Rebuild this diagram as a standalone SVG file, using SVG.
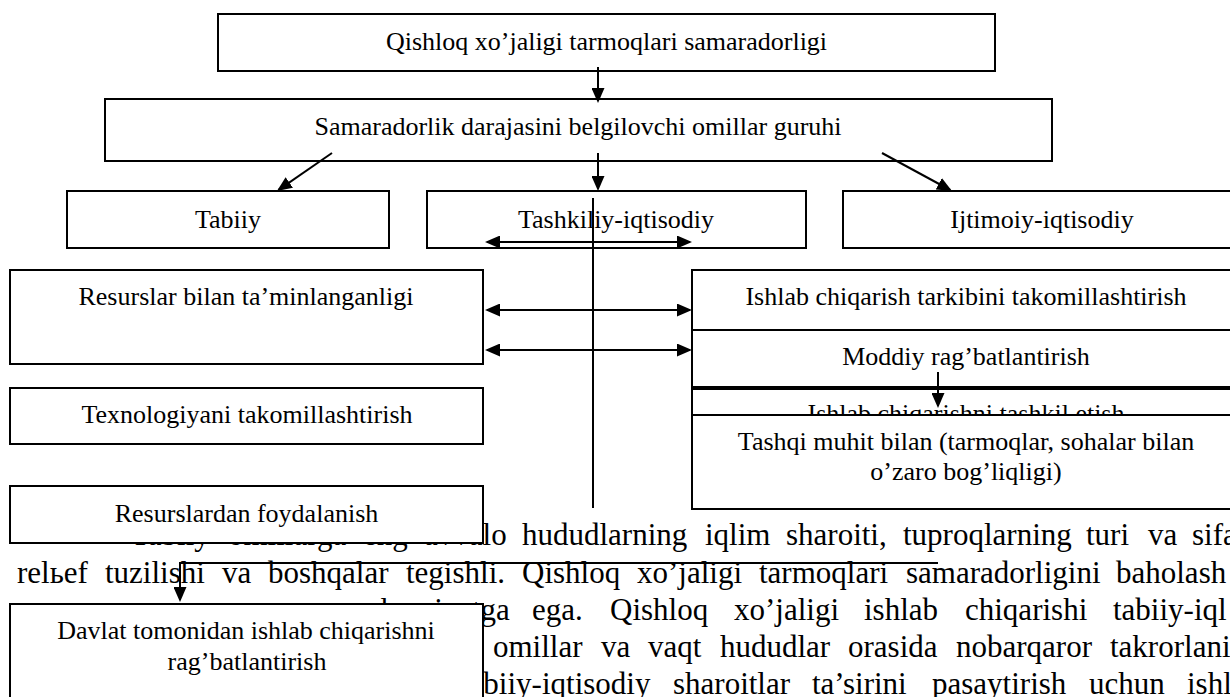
<svg xmlns="http://www.w3.org/2000/svg" width="1230" height="697" viewBox="0 0 1230 697">
<style>
.box{fill:#fff;stroke:#000;stroke-width:2}
.t{font-family:"Liberation Serif","Times New Roman",serif;font-size:26px;fill:#000;text-anchor:middle}
.b{font-family:"Liberation Serif","Times New Roman",serif;font-size:31px;fill:#000}
.c{fill:none;stroke:#000;stroke-width:2}
</style>
<defs>
<marker id="ah" viewBox="0 0 15 13" refX="13" refY="6.5" markerWidth="15" markerHeight="13" markerUnits="userSpaceOnUse" orient="auto-start-reverse">
<path d="M0,0 L15,6.5 L0,13 z" fill="#000"/>
</marker>
</defs>
<rect width="1230" height="697" fill="#fff"/>
<g id="body-text" class="b">
<text y="545"><tspan x="131">Tabiiy</tspan><tspan x="228">omillarga</tspan><tspan x="363">eng</tspan><tspan x="424">avvalo</tspan><tspan x="522">hududlarning</tspan><tspan x="705">iqlim</tspan><tspan x="786">sharoiti,</tspan><tspan x="903">tuproqlarning</tspan><tspan x="1086">turi</tspan><tspan x="1148">va</tspan><tspan x="1192">sifa</tspan></text>
<text y="583"><tspan x="17">relьef</tspan><tspan x="105">tuzilishi</tspan><tspan x="222">va</tspan><tspan x="268">boshqalar</tspan><tspan x="406">tegishli.</tspan><tspan x="522">Qishloq</tspan><tspan x="637">xo’jaligi</tspan><tspan x="759">tarmoqlari</tspan><tspan x="906">samaradorligini</tspan><tspan x="1116">baholash</tspan></text>
<text y="620"><tspan x="367">ahamiyatga</tspan><tspan x="532">ega.</tspan><tspan x="610">Qishloq</tspan><tspan x="734">xo’jaligi</tspan><tspan x="864">ishlab</tspan><tspan x="965">chiqarishi</tspan><tspan x="1113">tabiiy-iql</tspan></text>
<text y="657"><tspan x="493">omillar</tspan><tspan x="601">va</tspan><tspan x="648">vaqt</tspan><tspan x="720">hududlar</tspan><tspan x="848">orasida</tspan><tspan x="956">nobarqaror</tspan><tspan x="1110">takrorlani</tspan></text>
<text y="694"><tspan x="461">tabiiy-iqtisodiy</tspan><tspan x="673">sharoitlar</tspan><tspan x="812">ta’sirini</tspan><tspan x="932">pasaytirish</tspan><tspan x="1089">uchun</tspan><tspan x="1187">ishl</tspan></text>
</g>
<g id="n-top"><rect class="box" x="218" y="14" width="777" height="57"/><text class="t" x="606.5" y="50">Qishloq xo’jaligi tarmoqlari samaradorligi</text></g>
<g id="n-group"><rect class="box" x="105" y="99" width="947" height="62"/><text class="t" x="578" y="135">Samaradorlik darajasini belgilovchi omillar guruhi</text></g>
<g id="n-tabiiy"><rect class="box" x="67" y="191" width="322" height="57"/><text class="t" x="228" y="228">Tabiiy</text></g>
<g id="n-tashkiliy"><rect class="box" x="427" y="191" width="379" height="57"/><text class="t" x="616" y="228">Tashkiliy-iqtisodiy</text></g>
<g id="n-ijtimoiy"><rect class="box" x="843" y="191" width="398" height="57"/><text class="t" x="1042" y="228">Ijtimoiy-iqtisodiy</text></g>
<g id="n-resurslar"><rect class="box" x="10" y="270" width="473" height="94"/><text class="t" x="246" y="305">Resurslar bilan ta’minlanganligi</text></g>
<g id="n-texnologiya"><rect class="box" x="10" y="388" width="473" height="56"/><text class="t" x="247" y="423">Texnologiyani takomillashtirish</text></g>
<g id="n-foydalanish"><rect class="box" x="10" y="486" width="473" height="57"/><text class="t" x="246.5" y="522">Resurslardan foydalanish</text></g>
<g id="n-davlat"><rect class="box" x="10" y="604" width="473" height="110"/><text class="t" x="246" y="639">Davlat tomonidan ishlab chiqarishni</text><text class="t" x="247" y="670">rag’batlantirish</text></g>
<g id="n-tarkib"><rect class="box" x="692" y="270" width="548" height="60"/><text class="t" x="966" y="305">Ishlab chiqarish tarkibini takomillashtirish</text></g>
<g id="n-moddiy"><rect class="box" x="692" y="330" width="548" height="57"/><text class="t" x="966" y="365">Moddiy rag’batlantirish</text></g>
<g id="n-tashkil"><rect class="box" x="692" y="389" width="548" height="40"/><text class="t" x="966" y="422">Ishlab chiqarishni tashkil etish</text></g>
<g id="n-tashqi"><rect class="box" x="692" y="415" width="548" height="94"/><text class="t" x="966" y="450">Tashqi muhit bilan (tarmoqlar, sohalar bilan</text><text class="t" x="966" y="480">o’zaro bog’liqligi)</text></g>
<g id="connectors" class="c">
<line x1="598" y1="67" x2="598" y2="101" marker-end="url(#ah)"/>
<line x1="598" y1="153" x2="598" y2="189" marker-end="url(#ah)"/>
<line x1="332" y1="153" x2="278.6" y2="189.9" marker-end="url(#ah)"/>
<line x1="882" y1="153" x2="950.2" y2="190" marker-end="url(#ah)"/>
<line x1="593" y1="198" x2="593" y2="508"/>
<line x1="487" y1="242" x2="690" y2="242" marker-start="url(#ah)" marker-end="url(#ah)"/>
<line x1="487" y1="310" x2="690" y2="310" marker-start="url(#ah)" marker-end="url(#ah)"/>
<line x1="487" y1="350" x2="690" y2="350" marker-start="url(#ah)" marker-end="url(#ah)"/>
<line x1="938" y1="372" x2="938" y2="406" marker-end="url(#ah)"/>
<path d="M938,563 H180 V600" marker-end="url(#ah)"/>
</g>
</svg>
